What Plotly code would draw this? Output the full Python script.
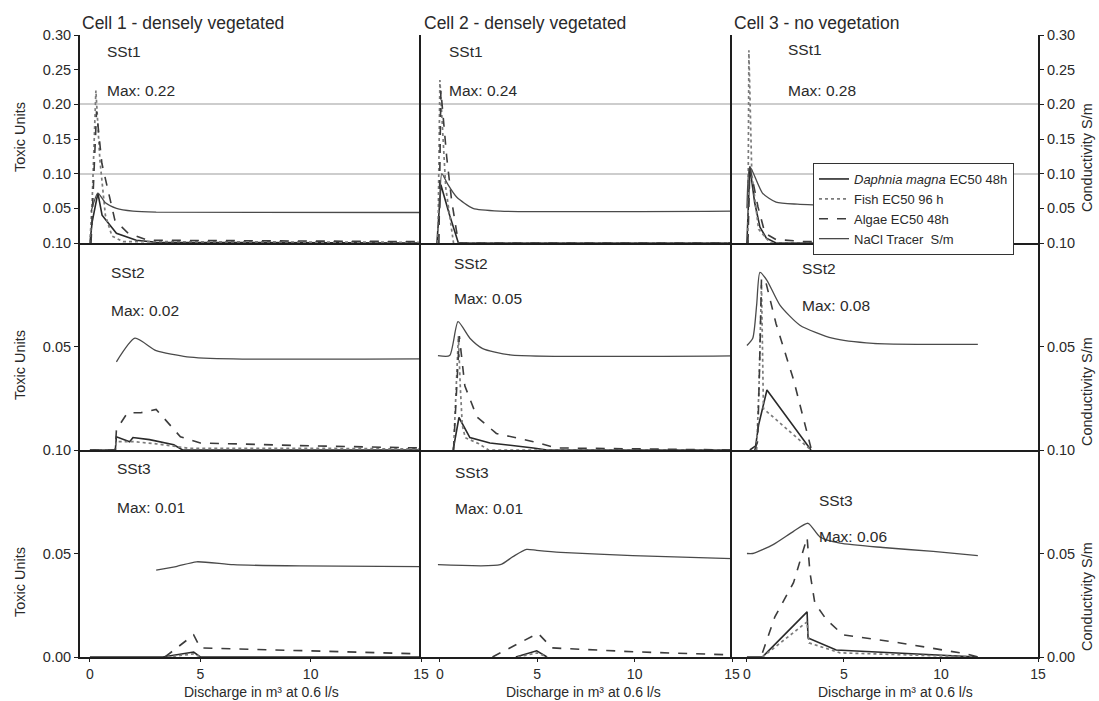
import plotly.graph_objects as go
from plotly.subplots import make_subplots

# ---------------- data ----------------
COLUMN_TITLES = ["Cell 1 - densely vegetated", "Cell 2 - densely vegetated", "Cell 3 - no vegetation"]
ROW_LABELS = ["SSt1", "SSt2", "SSt3"]
MAX_LABELS = [["Max: 0.22", "Max: 0.24", "Max: 0.28"],
              ["Max: 0.02", "Max: 0.05", "Max: 0.08"],
              ["Max: 0.01", "Max: 0.01", "Max: 0.06"]]
SERIES_NAMES = ["<i>Daphnia magna</i> EC50 48h", "Fish EC50 96 h", "Algae EC50 48h", "NaCl Tracer  S/m"]

X_TICKS = [0, 5, 10, 15]
Y_TICKS_TOP = [0, 0.05, 0.10, 0.15, 0.20, 0.25, 0.30]
Y_TICKTEXT_TOP = ["0.10", "0.05", "0.10", "0.15", "0.20", "0.25", "0.30"]
Y_TICKS_MID = [0, 0.05]
Y_TICKTEXT_MID = ["0.10", "0.05"]
Y_TICKS_BOT = [0, 0.05]
Y_TICKTEXT_BOT = ["0.00", "0.05"]

# --- SSt1, Cell 1
S1C1_DAPH_X = [0, 0.1, 0.36, 0.55, 1.2, 2.1, 3.0, 15]
S1C1_DAPH_Y = [0, 0.03, 0.072, 0.040, 0.014, 0.004, 0.001, 0.0]
S1C1_FISH_X = [0, 0.1, 0.27, 0.45, 0.7, 1.0, 1.5, 15]
S1C1_FISH_Y = [0, 0.06, 0.22, 0.12, 0.04, 0.01, 0.002, 0.001]
S1C1_ALG_X = [0.05, 0.3, 0.54, 0.82, 1.13, 1.7, 2.6, 15]
S1C1_ALG_Y = [0, 0.19, 0.115, 0.076, 0.033, 0.015, 0.004, 0.002]
S1C1_NACL_X = [0.05, 0.36, 0.7, 1.2, 1.95, 3.0, 15]
S1C1_NACL_Y = [0.045, 0.072, 0.058, 0.050, 0.046, 0.0445, 0.044]
# --- SSt1, Cell 2
S1C2_DAPH_X = [-0.15, 0.05, 0.5, 0.95, 15]
S1C2_DAPH_Y = [0, 0.084, 0.04, 0.0, 0.0]
S1C2_FISH_X = [-0.1, 0.0, 0.3, 0.7, 15]
S1C2_FISH_Y = [0, 0.235, 0.08, 0.0, 0.0]
S1C2_ALG_X = [-0.05, 0.05, 0.35, 0.6, 0.95, 15]
S1C2_ALG_Y = [0, 0.22, 0.124, 0.062, 0.0, 0.0]
S1C2_NACL_X = [0.0, 0.1, 0.4, 0.87, 1.7, 3.1, 15]
S1C2_NACL_Y = [0.05, 0.10, 0.085, 0.066, 0.050, 0.046, 0.046]
# --- SSt1, Cell 3
S1C3_DAPH_X = [0, 0.15, 0.4, 0.67, 1.0, 1.5, 11.9]
S1C3_DAPH_Y = [0, 0.11, 0.058, 0.023, 0.007, 0.0, 0.0]
S1C3_FISH_X = [0.05, 0.1, 0.25, 0.6, 1.2, 11.9]
S1C3_FISH_Y = [0, 0.278, 0.10, 0.02, 0.0, 0.0]
S1C3_ALG_X = [0.05, 0.15, 0.3, 0.57, 0.93, 1.5, 3.0, 11.9]
S1C3_ALG_Y = [0, 0.107, 0.09, 0.052, 0.014, 0.005, 0.002, 0.0]
S1C3_NACL_X = [0.0, 0.15, 0.8, 1.5, 2.6, 3.4, 6.0, 11.9]
S1C3_NACL_Y = [0.05, 0.11, 0.072, 0.059, 0.056, 0.055, 0.053, 0.052]

# --- SSt2, Cell 1
S2C1_DAPH_X = [0, 1.15, 1.2, 1.8, 1.95, 2.7, 3.8, 4.2, 15]
S2C1_DAPH_Y = [0, 0, 0.0064, 0.004, 0.006, 0.005, 0.0025, 0, 0]
S2C1_FISH_X = [0, 1.15, 1.2, 2.0, 3.0, 4.5, 10, 15]
S2C1_FISH_Y = [0, 0, 0.004, 0.004, 0.003, 0.0008, 0.0008, 0.0005]
S2C1_ALG_X = [0, 1.15, 1.2, 1.7, 2.3, 3.0, 4.1, 5.0, 10, 15]
S2C1_ALG_Y = [0, 0, 0.0098, 0.018, 0.018, 0.0196, 0.0064, 0.0034, 0.002, 0.001]
S2C1_NACL_X = [1.2, 2.04, 3.0, 4.4, 6.5, 15]
S2C1_NACL_Y = [0.0426, 0.054, 0.048, 0.045, 0.044, 0.044]
# --- SSt2, Cell 2
S2C2_DAPH_X = [0.68, 0.98, 1.54, 2.57, 4.8, 5.5, 15]
S2C2_DAPH_Y = [0, 0.0157, 0.006, 0.0034, 0.001, 0, 0]
S2C2_FISH_X = [0.7, 0.95, 1.05, 1.15, 1.3, 2.0, 2.5, 15]
S2C2_FISH_Y = [0, 0.055, 0.03, 0.012, 0.006, 0.003, 0, 0]
S2C2_ALG_X = [0.7, 0.95, 1.0, 1.28, 1.9, 2.9, 4.8, 6.0, 15]
S2C2_ALG_Y = [0, 0.05, 0.055, 0.031, 0.016, 0.008, 0.004, 0.001, 0]
S2C2_NACL_X = [-0.1, 0.5, 0.93, 1.54, 2.2, 3.6, 15]
S2C2_NACL_Y = [0.0456, 0.0456, 0.062, 0.054, 0.049, 0.046, 0.0455]
# --- SSt2, Cell 3
S2C3_DAPH_X = [0.15, 0.45, 0.6, 1.03, 3.3]
S2C3_DAPH_Y = [0, 0.002, 0.012, 0.029, 0.0]
S2C3_FISH_X = [0.5, 0.62, 0.75, 0.85, 3.3]
S2C3_FISH_Y = [0, 0.03, 0.08, 0.02, 0]
S2C3_ALG_X = [0.4, 0.55, 0.65, 0.75, 0.95, 1.5, 2.4, 3.3]
S2C3_ALG_Y = [0, 0.004, 0.04, 0.083, 0.082, 0.061, 0.034, 0.001]
S2C3_NACL_X = [0, 0.3, 0.5, 0.67, 1.03, 1.7, 2.73, 4.4, 6.5, 11.9]
S2C3_NACL_Y = [0.0505, 0.054, 0.07, 0.0858, 0.082, 0.070, 0.0603, 0.054, 0.0515, 0.051]

# --- SSt3, Cell 1
S3C1_DAPH_X = [0, 3.3, 4.7, 5.0, 15]
S3C1_DAPH_Y = [0, 0, 0.0024, 0, 0]
S3C1_FISH_X = [3.5, 4.7, 5.0]
S3C1_FISH_Y = [0, 0.0015, 0]
S3C1_ALG_X = [3.4, 4.7, 5.0, 8, 12, 15]
S3C1_ALG_Y = [0.0, 0.0107, 0.0044, 0.0035, 0.0025, 0.0015]
S3C1_NACL_X = [3.0, 3.9, 4.83, 6.5, 9.5, 15]
S3C1_NACL_Y = [0.042, 0.0437, 0.046, 0.0446, 0.044, 0.0437]
# --- SSt3, Cell 2
S3C2_DAPH_X = [3.9, 4.97, 5.5]
S3C2_DAPH_Y = [0, 0.003, 0]
S3C2_FISH_X = [4.0, 5.0, 5.5]
S3C2_FISH_Y = [0, 0.002, 0]
S3C2_ALG_X = [2.7, 5.04, 5.75, 10, 15]
S3C2_ALG_Y = [0, 0.0115, 0.0044, 0.0025, 0.001]
S3C2_NACL_X = [-0.1, 3.1, 3.75, 4.45, 4.97, 6.2, 9.9, 15]
S3C2_NACL_Y = [0.0446, 0.0446, 0.0485, 0.052, 0.0515, 0.0505, 0.049, 0.0475]
# --- SSt3, Cell 3
S3C3_DAPH_X = [0, 0.8, 3.1, 3.15, 4.6, 7.9, 11.9]
S3C3_DAPH_Y = [0, 0, 0.0218, 0.0092, 0.0034, 0.002, 0]
S3C3_FISH_X = [0.8, 3.1, 3.2, 4.8, 11.9]
S3C3_FISH_Y = [0, 0.017, 0.0068, 0.002, 0]
S3C3_ALG_X = [0.8, 1.44, 2.4, 3.1, 3.25, 3.5, 4.1, 4.95, 7.9, 11.3, 11.9]
S3C3_ALG_Y = [0.002, 0.0194, 0.0359, 0.0577, 0.0407, 0.026, 0.018, 0.0107, 0.0068, 0.0015, 0]
S3C3_NACL_X = [0, 0.3, 1.35, 2.4, 3.15, 3.76, 4.8, 7.0, 9.6, 11.9]
S3C3_NACL_Y = [0.05, 0.05, 0.0543, 0.0607, 0.0646, 0.058, 0.055, 0.0529, 0.051, 0.049]

PANELS = [
    [(S1C1_DAPH_X, S1C1_DAPH_Y, S1C1_FISH_X, S1C1_FISH_Y, S1C1_ALG_X, S1C1_ALG_Y, S1C1_NACL_X, S1C1_NACL_Y),
     (S1C2_DAPH_X, S1C2_DAPH_Y, S1C2_FISH_X, S1C2_FISH_Y, S1C2_ALG_X, S1C2_ALG_Y, S1C2_NACL_X, S1C2_NACL_Y),
     (S1C3_DAPH_X, S1C3_DAPH_Y, S1C3_FISH_X, S1C3_FISH_Y, S1C3_ALG_X, S1C3_ALG_Y, S1C3_NACL_X, S1C3_NACL_Y)],
    [(S2C1_DAPH_X, S2C1_DAPH_Y, S2C1_FISH_X, S2C1_FISH_Y, S2C1_ALG_X, S2C1_ALG_Y, S2C1_NACL_X, S2C1_NACL_Y),
     (S2C2_DAPH_X, S2C2_DAPH_Y, S2C2_FISH_X, S2C2_FISH_Y, S2C2_ALG_X, S2C2_ALG_Y, S2C2_NACL_X, S2C2_NACL_Y),
     (S2C3_DAPH_X, S2C3_DAPH_Y, S2C3_FISH_X, S2C3_FISH_Y, S2C3_ALG_X, S2C3_ALG_Y, S2C3_NACL_X, S2C3_NACL_Y)],
    [(S3C1_DAPH_X, S3C1_DAPH_Y, S3C1_FISH_X, S3C1_FISH_Y, S3C1_ALG_X, S3C1_ALG_Y, S3C1_NACL_X, S3C1_NACL_Y),
     (S3C2_DAPH_X, S3C2_DAPH_Y, S3C2_FISH_X, S3C2_FISH_Y, S3C2_ALG_X, S3C2_ALG_Y, S3C2_NACL_X, S3C2_NACL_Y),
     (S3C3_DAPH_X, S3C3_DAPH_Y, S3C3_FISH_X, S3C3_FISH_Y, S3C3_ALG_X, S3C3_ALG_Y, S3C3_NACL_X, S3C3_NACL_Y)],
]

# ---------------- layout constants ----------------
W, H = 1099, 701
ML, MR, MT, MB = 80, 61, 35, 44
PW, PH = W - ML - MR, H - MT - MB
FONT = "Liberation Sans, Arial, sans-serif"
TXT = "#2a2a2a"
AX = "#1e1e1e"

STYLES = [
    dict(color="#2a2a2a", width=1.6, dash="solid"),
    dict(color="#7c7c7c", width=1.7, dash="dot"),
    dict(color="#3c3c3c", width=1.6, dash="dash"),
    dict(color="#4a4a4a", width=1.3, dash="solid", shape="spline", smoothing=0.6),
]


def px(xp):
    return (xp - ML) / PW


def py(yp):
    return (H - MB - yp) / PH


fig = make_subplots(rows=3, cols=3, column_widths=[341, 311, 306], row_heights=[208, 207, 207],
                    horizontal_spacing=0, vertical_spacing=0)

for r in range(3):
    for c in range(3):
        d = PANELS[r][c]
        for s in range(4):
            fig.add_trace(go.Scatter(
                x=d[2 * s], y=d[2 * s + 1], mode="lines", name=SERIES_NAMES[s],
                line=STYLES[s], showlegend=(r == 0 and c == 0), hoverinfo="skip"),
                row=r + 1, col=c + 1)

X_RANGES = [[-0.45, 15], [-0.97, 15], [-0.77, 15]]
Y_RANGES = [[0, 0.3], [0, 0.1], [0, 0.1]]
Y_TV = [Y_TICKS_TOP, Y_TICKS_MID, Y_TICKS_BOT]
Y_TT = [Y_TICKTEXT_TOP, Y_TICKTEXT_MID, Y_TICKTEXT_BOT]
TICKFONT = dict(size=14.5, color=TXT, family=FONT)
XTICKFONT = dict(size=14, color=TXT, family=FONT)

for r in range(3):
    for c in range(3):
        fig.update_xaxes(range=X_RANGES[c], showline=True, linecolor=AX, linewidth=2, mirror=False,
                         showgrid=False, zeroline=False,
                         tickvals=X_TICKS, ticks="outside" if r == 2 else "", ticklen=3, tickcolor=AX,
                         showticklabels=(r == 2), tickfont=XTICKFONT,
                         row=r + 1, col=c + 1)
        yk = dict(range=Y_RANGES[r], showline=True, linecolor=AX, linewidth=2, zeroline=False,
                  showgrid=False, tickvals=Y_TV[r], ticktext=Y_TT[r], ticklen=4, tickcolor=AX,
                  tickfont=TICKFONT)
        if r == 0:
            yk["minor"] = dict(tickvals=[0.1, 0.2], showgrid=True, gridcolor="#cdcdcd", gridwidth=2, ticks="")
        if c == 0:
            yk.update(side="left", ticks="outside", showticklabels=True, mirror=False)
        elif c == 1:
            yk.update(side="left", ticks="", showticklabels=False, mirror=False)
        else:
            yk.update(side="right", ticks="outside", showticklabels=True, mirror=True)
        fig.update_yaxes(**yk, row=r + 1, col=c + 1)

ann = []
col_title_x = [80, 422, 732]
for c in range(3):
    ann.append(dict(x=px(col_title_x[c]), y=py(23), text=COLUMN_TITLES[c], font=dict(size=17.5, color=TXT, family=FONT)))

lab_pos = [[(105, 52, 90), (447, 52, 90), (786, 50, 90)],
           [(109, 272, 310), (452, 263, 298), (800, 268, 305)],
           [(115, 468, 507), (453, 472, 509), (817, 500, 536)]]
for r in range(3):
    for c in range(3):
        xp, y1, y2 = lab_pos[r][c]
        ann.append(dict(x=px(xp), y=py(y1), text=ROW_LABELS[r], font=dict(size=15.5, color=TXT, family=FONT)))
        ann.append(dict(x=px(xp), y=py(y2), text=MAX_LABELS[r][c], font=dict(size=15.5, color=TXT, family=FONT)))

for yc in [137, 365, 582]:
    ann.append(dict(x=px(20), y=py(yc), text="Toxic Units", textangle=-90, xanchor="center",
                    font=dict(size=14.5, color=TXT, family=FONT)))
for yc in [158, 392, 597]:
    ann.append(dict(x=px(1087), y=py(yc), text="Conductivity S/m", textangle=-90, xanchor="center",
                    font=dict(size=14.5, color=TXT, family=FONT)))
for xc in [261, 583, 895]:
    ann.append(dict(x=px(xc), y=py(692), text="Discharge in m³ at 0.6 l/s", xanchor="center",
                    font=dict(size=14, color=TXT, family=FONT)))

for a in ann:
    a.setdefault("xanchor", "left")
    a.update(xref="paper", yref="paper", yanchor="middle", showarrow=False)

fig.update_layout(
    width=W, height=H, autosize=False,
    margin=dict(l=ML, r=MR, t=MT, b=MB),
    paper_bgcolor="white", plot_bgcolor="white",
    font=dict(family=FONT, color=TXT),
    annotations=ann,
    legend=dict(x=px(813), y=py(163), xanchor="left", yanchor="top",
                bgcolor="white", bordercolor="#333333", borderwidth=1,
                font=dict(size=13, color=TXT, family=FONT), tracegroupgap=0,
                itemwidth=30),
)

fig.write_html("out.html")
